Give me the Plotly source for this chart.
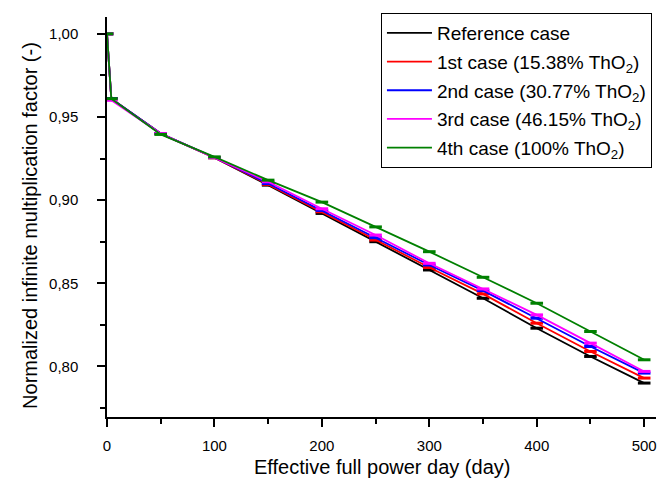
import plotly.graph_objects as go

days = [0, 4, 50, 100, 150, 200, 250, 300, 350, 400, 450, 500]
ref_case = [1.000, 0.961, 0.940, 0.9255, 0.909, 0.892, 0.875, 0.858, 0.841, 0.823, 0.806, 0.790]
case1 = [1.000, 0.961, 0.940, 0.9255, 0.9095, 0.893, 0.876, 0.8595, 0.8436, 0.826, 0.809, 0.793]
case2 = [1.000, 0.961, 0.940, 0.9256, 0.910, 0.8938, 0.8774, 0.861, 0.8456, 0.829, 0.812, 0.796]
case3 = [1.000, 0.960, 0.940, 0.9256, 0.911, 0.8948, 0.879, 0.862, 0.8466, 0.831, 0.814, 0.797]
case4 = [1.000, 0.961, 0.9395, 0.926, 0.912, 0.8988, 0.8839, 0.869, 0.8536, 0.838, 0.821, 0.804]

names = ["Reference case",
         "1st case (15.38% ThO<sub>2</sub>)",
         "2nd case (30.77% ThO<sub>2</sub>)",
         "3rd case (46.15% ThO<sub>2</sub>)",
         "4th case (100% ThO<sub>2</sub>)"]
series = [ref_case, case1, case2, case3, case4]
colors = ["#000000", "#ff0000", "#0000ff", "#ff00ff", "#008000"]
x_title = "Effective full power day (day)"
y_title = "Normalized infinite multiplication factor (-)"

fig = go.Figure()
for name, ys, c in zip(names, series, colors):
    fig.add_trace(go.Scatter(
        x=days, y=ys, mode="lines+markers", showlegend=False,
        line=dict(color=c, width=1.8),
        marker=dict(symbol="line-ew", size=9, line=dict(color=c, width=3)),
    ))
for i, (name, c) in enumerate(zip(names, colors)):
    fig.add_trace(go.Scatter(
        x=[None], y=[None], mode="lines", name=name, legendgroup=f"g{i}",
        line=dict(color=c, width=1.8),
    ))

font = "Liberation Sans, Arial, sans-serif"
# the page body adds an 8 px offset, so the figure is sized 8 px smaller
fig.update_layout(
    width=664, height=471,
    margin=dict(l=99, r=16, t=5, b=62),
    paper_bgcolor="white", plot_bgcolor="white",
    separators=",.",
    font=dict(family=font, size=15, color="black"),
    legend=dict(x=0.499, y=1.01, xanchor="left", yanchor="top",
                bordercolor="black", borderwidth=1, bgcolor="white",
                font=dict(family=font, size=19, color="black"),
                itemwidth=45, tracegroupgap=1),
    xaxis=dict(range=[0, 511], tickvals=[0, 100, 200, 300, 400, 500],
               automargin=False,
               showgrid=False, zeroline=False, showline=True,
               linecolor="black", linewidth=1.5,
               ticks="outside", ticklen=8, tickwidth=1.5, tickcolor="black",
               ticklabelstandoff=6,
               minor=dict(dtick=50, ticks="outside", ticklen=5, tickwidth=1.5, tickcolor="black"),
               tickfont=dict(size=15)),
    yaxis=dict(range=[0.7696, 1.0101], tickvals=[0.80, 0.85, 0.90, 0.95, 1.00],
               tickformat=".2f",
               automargin=False,
               showgrid=False, zeroline=False, showline=True,
               linecolor="black", linewidth=1.5,
               ticks="outside", ticklen=8, tickwidth=1.5, tickcolor="black",
               ticklabelstandoff=16,
               minor=dict(tickvals=[0.775, 0.825, 0.875, 0.925, 0.975], ticks="outside",
                          ticklen=5, tickwidth=1.5, tickcolor="black"),
               tickfont=dict(size=15)),
    annotations=[
        dict(text=x_title, xref="paper", yref="paper", x=0.5, y=-0.124,
             xanchor="center", yanchor="middle", showarrow=False,
             font=dict(family=font, size=20, color="black")),
        dict(text=y_title, xref="paper", yref="paper", x=-0.140, y=0.478,
             xanchor="center", yanchor="middle", showarrow=False, textangle=-90,
             font=dict(family=font, size=20, color="black")),
    ],
)

fig.write_html("out.html")
